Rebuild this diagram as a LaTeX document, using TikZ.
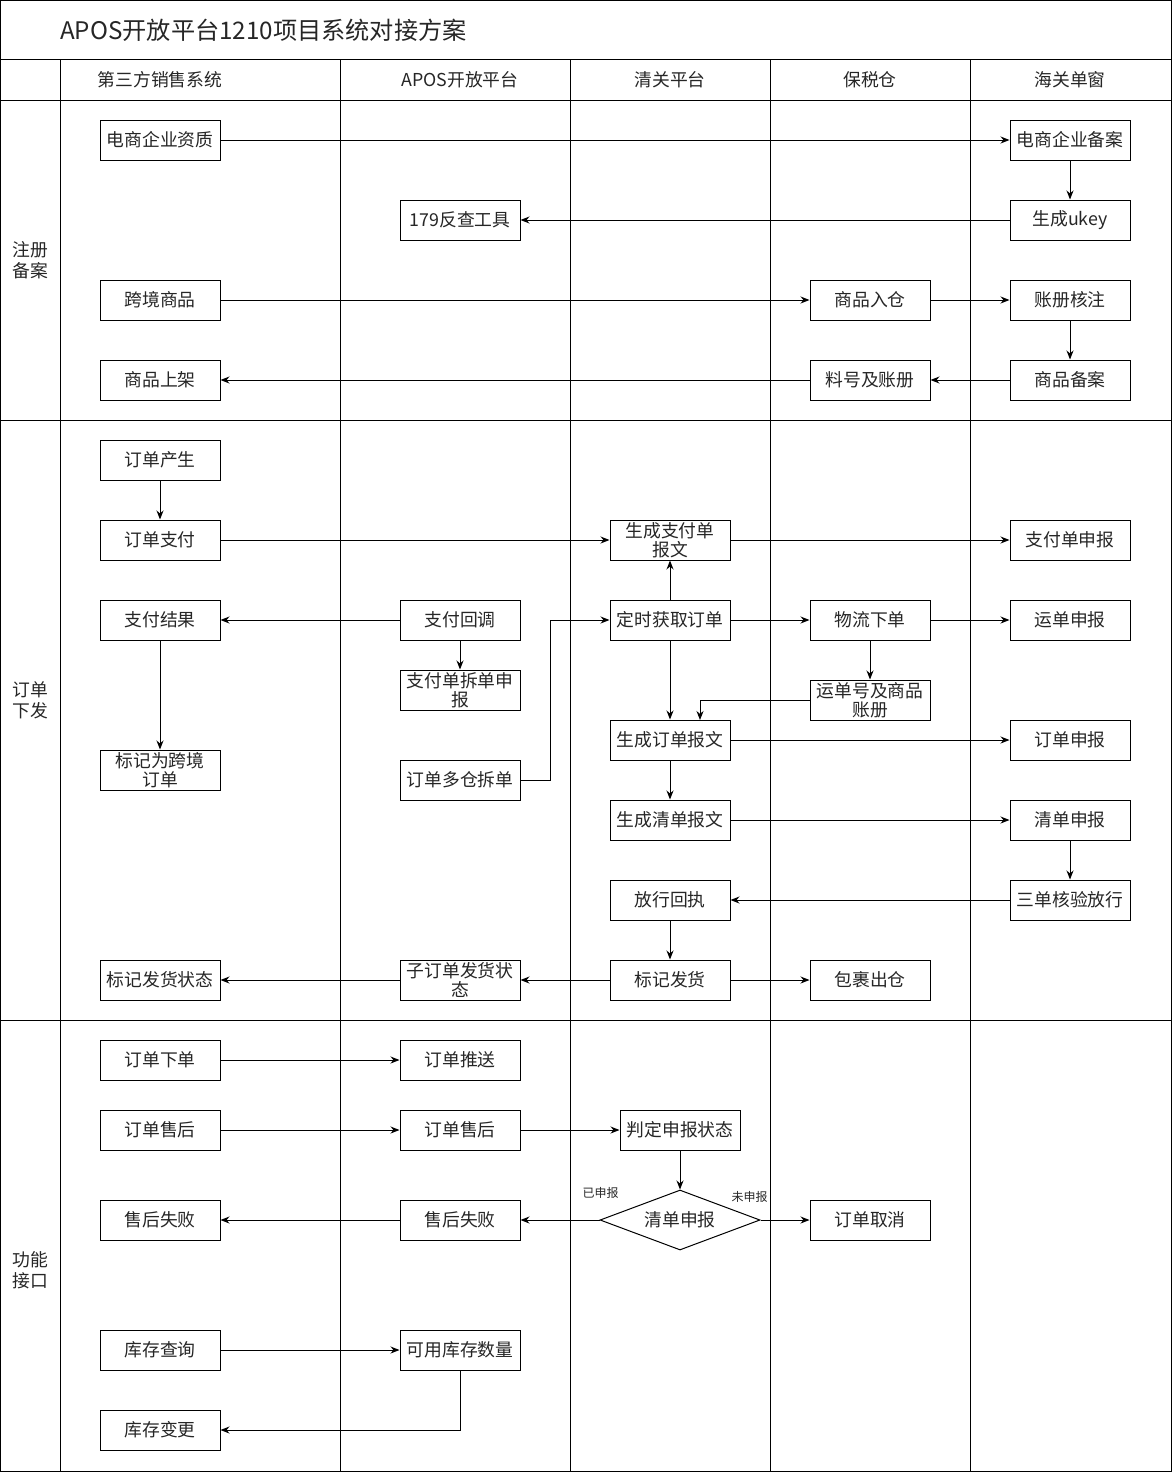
\documentclass[tikz,border=0pt]{standalone}
\usepackage{fontspec}
\setmainfont{Noto Sans CJK SC}
\usetikzlibrary{arrows.meta,shapes.geometric}
\begin{document}
\begin{tikzpicture}[x=1pt,y=-1pt,
  every node/.style={text=black!85},
  box/.style={draw=black,line width=1pt,fill=white,minimum width=120pt,minimum height=40pt,inner sep=0pt,align=center,font=\fontsize{17.8}{19.5}\selectfont},
  lane/.style={font=\fontsize{17.8}{21}\selectfont,align=center},
  lbl/.style={font=\fontsize{12}{13}\selectfont},
  grid/.style={draw=black,line width=1pt},
  arr/.style={draw=black,line width=1pt,-{Stealth[length=9pt,width=7pt]}},
  ]
\useasboundingbox (0,0) rectangle (1172,1472);
% frame
\draw[grid] (0.5,0.5) rectangle (1171,1471);
\draw[grid] (0.5,60) -- (1171,60);
\draw[grid] (0.5,100) -- (1171,100);
\draw[grid] (0.5,420) -- (1171,420);
\draw[grid] (0.5,1020) -- (1171,1020);
\foreach \x in {60,340,570,770,970} \draw[grid] (\x,60) -- (\x,1471);
% title and headers
\node[anchor=west,font=\fontsize{24.2}{27}\selectfont,inner sep=0pt] (title) at (60,30) {APOS开放平台1210项目系统对接方案};
\node[lane] (h1) at (160,80) {第三方销售系统};
\node[lane] (h2) at (460,80) {APOS开放平台};
\node[lane] (h3) at (670,80) {清关平台};
\node[lane] (h4) at (870,80) {保税仓};
\node[lane] (h5) at (1070,80) {海关单窗};
\node[lane] (r1) at (30,260) {注册\\备案};
\node[lane] (r2) at (30,700) {订单\\下发};
\node[lane] (r3) at (30,1270) {功能\\接口};
% registration
\node[box] (a1) at (160,140) {电商企业资质};
\node[box] (a2) at (1070,140) {电商企业备案};
\node[box] (a3) at (1070,220) {生成ukey};
\node[box] (a4) at (460,220) {179反查工具};
\node[box] (a5) at (160,300) {跨境商品};
\node[box] (a6) at (870,300) {商品入仓};
\node[box] (a7) at (1070,300) {账册核注};
\node[box] (a8) at (1070,380) {商品备案};
\node[box] (a9) at (870,380) {料号及账册};
\node[box] (a10) at (160,380) {商品上架};
\draw[arr] (a1) -- (a2);
\draw[arr] (a2) -- (a3);
\draw[arr] (a3) -- (a4);
\draw[arr] (a5) -- (a6);
\draw[arr] (a6) -- (a7);
\draw[arr] (a7) -- (a8);
\draw[arr] (a8) -- (a9);
\draw[arr] (a9) -- (a10);
% order
\node[box] (b1) at (160,460) {订单产生};
\node[box] (b2) at (160,540) {订单支付};
\node[box] (b3) at (670,540) {生成支付单\\报文};
\node[box] (b4) at (1070,540) {支付单申报};
\node[box] (b5) at (160,620) {支付结果};
\node[box] (b6) at (460,620) {支付回调};
\node[box] (b7) at (460,690) {支付单拆单申\\报};
\node[box] (b8) at (160,770) {标记为跨境\\订单};
\node[box] (b9) at (460,780) {订单多仓拆单};
\node[box] (b10) at (670,620) {定时获取订单};
\node[box] (b11) at (870,620) {物流下单};
\node[box] (b12) at (1070,620) {运单申报};
\node[box] (b13) at (870,700) {运单号及商品\\账册};
\node[box] (b14) at (670,740) {生成订单报文};
\node[box] (b15) at (1070,740) {订单申报};
\node[box] (b16) at (670,820) {生成清单报文};
\node[box] (b17) at (1070,820) {清单申报};
\node[box] (b18) at (1070,900) {三单核验放行};
\node[box] (b19) at (670,900) {放行回执};
\node[box] (b20) at (670,980) {标记发货};
\node[box] (b21) at (460,980) {子订单发货状\\态};
\node[box] (b22) at (870,980) {包裹出仓};
\node[box] (b23) at (160,980) {标记发货状态};
\draw[arr] (b1) -- (b2);
\draw[arr] (b2) -- (b3);
\draw[arr] (b3) -- (b4);
\draw[arr] (b6) -- (b5);
\draw[arr] (b6) -- (b7);
\draw[arr] (b5) -- (b8);
\draw[arr] (b9.east) -- (550,780) -- (550,620) -- (b10.west);
\draw[arr] (b10) -- (b3);
\draw[arr] (b10) -- (b11);
\draw[arr] (b11) -- (b12);
\draw[arr] (b11) -- (b13);
\draw[arr] (b13.west) -- (700,700) -- (700,720);
\draw[arr] (b10) -- (b14);
\draw[arr] (b14) -- (b15);
\draw[arr] (b14) -- (b16);
\draw[arr] (b16) -- (b17);
\draw[arr] (b17) -- (b18);
\draw[arr] (b18) -- (b19);
\draw[arr] (b19) -- (b20);
\draw[arr] (b20) -- (b21);
\draw[arr] (b20) -- (b22);
\draw[arr] (b21) -- (b23);
% functions
\node[box] (c1) at (160,1060) {订单下单};
\node[box] (c2) at (460,1060) {订单推送};
\node[box] (c3) at (160,1130) {订单售后};
\node[box] (c4) at (460,1130) {订单售后};
\node[box] (c5) at (680,1130) {判定申报状态};
\node[box,diamond,minimum width=160pt,minimum height=60pt,aspect=2.6667] (c6) at (680,1220) {清单申报};
\node[box] (c7) at (460,1220) {售后失败};
\node[box] (c8) at (870,1220) {订单取消};
\node[box] (c9) at (160,1220) {售后失败};
\node[box] (c10) at (160,1350) {库存查询};
\node[box] (c11) at (460,1350) {可用库存数量};
\node[box] (c12) at (160,1430) {库存变更};
\draw[arr] (c1) -- (c2);
\draw[arr] (c3) -- (c4);
\draw[arr] (c4) -- (c5);
\draw[arr] (c5) -- (c6);
\draw[arr] (c6) -- node[lbl,pos=0,above=18pt,xshift=1pt] (l1) {已申报} (c7);
\draw[arr] (c6) -- node[lbl,pos=0,above=14pt,xshift=-11pt] (l2) {未申报} (c8);
\draw[arr] (c7) -- (c9);
\draw[arr] (c10) -- (c11);
\draw[arr] (c11.south) -- (460,1430) -- (c12.east);
\end{tikzpicture}
\end{document}
